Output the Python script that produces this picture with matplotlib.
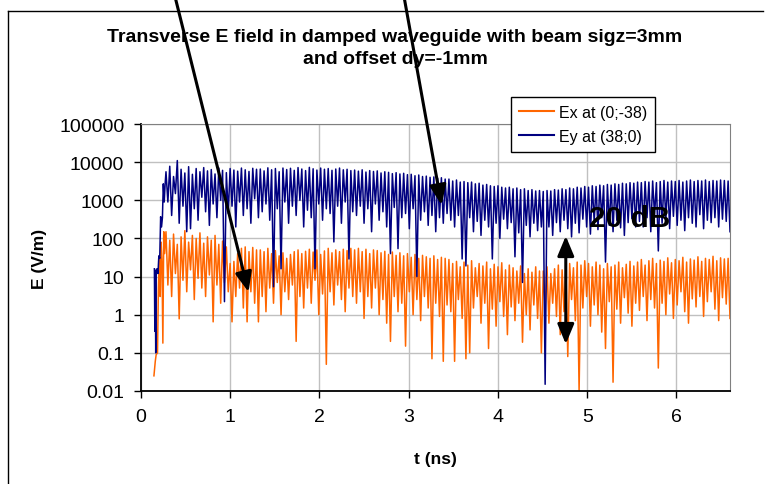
import numpy as np
import matplotlib
matplotlib.use("Agg")
import matplotlib.pyplot as plt
from matplotlib.lines import Line2D
from matplotlib.ticker import NullLocator

plt.rcParams['font.family'] = ['Liberation Sans', 'DejaVu Sans']

# start of each trace (rise of the field)
ey_t0 = [0.150, 0.155, 0.160, 0.165, 0.170, 0.180, 0.190, 0.200, 0.210, 0.220, 0.230, 0.240, 0.250, 0.260, 0.270]
ey_v0 = [16, 0.37, 14, 0.1, 15, 16, 12, 35, 30, 370, 200, 350, 2700, 900, 2600]
ex_t0 = [0.145, 0.160, 0.170, 0.185, 0.195, 0.205, 0.215, 0.225, 0.235, 0.245, 0.255, 0.265]
ex_v0 = [0.025, 0.06, 0.09, 0.1, 5, 30, 3, 80, 25, 0.18, 150, 40]

# oscillating part, 0.28 .. 6.6 ns : local maxima and minima
ey_peaks = [5600, 7800, 4200, 11000, 6500, 5200, 7600, 4800, 6800, 5600, 7200, 5900, 6400, 4900, 7000, 6100, 5300, 6800, 6200, 5800, 7000, 6300, 5700, 6900, 6500,
            6600, 5900, 7100, 6300, 6800, 5600, 7000, 6400, 6900, 6100, 7200, 6600, 6000, 7300, 6700, 6200, 7000, 6500, 6800, 6100, 6600, 7000, 6300, 6500, 6000,
            6200, 5800, 6300, 5500, 6000, 5700, 5900, 5200, 5600, 5400, 5000, 5300, 4900, 5100, 4700, 4800, 4400, 4600, 4200, 4300, 4000, 4100, 3800, 3900, 3600,
            3600, 3200, 3400, 3000, 3100, 2900, 3000, 2700, 2800, 2500, 2600, 2400, 2300, 2400, 2200, 2100, 2200, 2000, 2100, 1900, 2000, 1800, 1900, 1750, 1800,
            1700, 1800, 1750, 1900, 1850, 2000, 1900, 2100, 2000, 2200, 2100, 2300, 2200, 2400, 2300, 2500, 2400, 2600, 2500, 2700, 2600, 2800, 2700, 2900, 2800,
            3000, 2900, 3100, 3000, 3200, 2900, 3100, 3300, 3000, 3200, 3100, 3300, 3000, 3200, 3400, 3100, 3300, 3200, 3400, 3100, 3300, 3200, 3400, 3300, 3200]
ey_dips = [900, 400, 1500, 250, 700, 150, 180, 600, 300, 1200, 500, 220, 800, 350, 1000, 2.2, 450, 700, 200, 900, 400, 600, 250, 1100, 350,
           500, 800, 300, 5.4, 600, 16, 900, 250, 700, 400, 1000, 200, 550, 350, 16, 800, 300, 600, 450, 81, 700, 250, 900, 29, 500,
           400, 700, 250, 600, 150, 800, 300, 500, 200, 40, 650, 54, 350, 450, 180, 600, 10, 300, 500, 220, 400, 150, 350, 250, 450,
           300, 200, 400, 29, 19, 350, 150, 280, 120, 300, 200, 29, 250, 100, 320, 180, 260, 33, 140, 7, 220, 110, 250, 160, 200,
           0.015, 200, 120, 260, 150, 300, 180, 110, 250, 140, 320, 200, 130, 280, 170, 350, 24, 220, 150, 300, 190, 120, 260, 330, 200,
           280, 200, 350, 150, 400, 47, 250, 320, 180, 380, 220, 300, 160, 350, 250, 200, 420, 180, 300, 260, 350, 200, 320, 280, 150]
ex_peaks = [150, 90, 130, 70, 110, 160, 80, 120, 100, 140, 75, 110, 90, 120, 70, 85, 60, 22, 25, 40, 55, 60, 45, 58, 50,
            50, 45, 55, 40, 48, 35, 42, 30, 38, 45, 50, 40, 46, 52, 44, 50, 38, 47, 55, 42, 50, 45, 52, 48, 55,
            50, 55, 45, 52, 40, 50, 48, 42, 46, 38, 44, 36, 42, 35, 40, 32, 38, 30, 36, 33, 30, 35, 28, 32, 30,
            28, 22, 25, 18, 24, 20, 26, 17, 22, 19, 24, 16, 21, 18, 23, 15, 20, 17, 14, 19, 12, 16, 13, 18, 14,
            14, 18, 12, 16, 20, 15, 18, 22, 17, 24, 20, 26, 22, 18, 24, 20, 16, 22, 18, 20, 24, 17, 21, 25, 19,
            24, 28, 20, 26, 30, 22, 27, 25, 31, 23, 28, 26, 32, 24, 29, 27, 33, 25, 30, 28, 34, 26, 31, 29, 30]
ex_dips = [6, 3, 12, 0.78, 8, 4, 15, 2.5, 9, 5, 3, 11, 0.65, 6, 2, 7, 4, 0.65, 3, 5, 1.5, 0.65, 4, 2, 0.65,
           3, 1.2, 5, 2, 7, 1, 4, 2.5, 6, 0.2, 3, 1.5, 5, 2, 8, 1, 3.5, 0.05, 4, 1.8, 6, 2.5, 1.2, 5, 3,
           2, 4, 0.8, 3, 1.5, 5, 1, 2.5, 0.6, 0.2, 3, 1.2, 2, 0.15, 4, 1, 2.5, 0.7, 3, 1.5, 0.07, 2, 0.9, 0.06, 1.8,
           1.2, 0.06, 2.5, 0.8, 0.07, 0.1, 1.5, 3, 0.6, 2, 0.13, 1.4, 0.5, 2.2, 0.9, 0.3, 1.6, 0.7, 2, 0.19, 1, 0.4, 1.8, 0.8, 0.1,
           1.5, 0.6, 2, 0.9, 0.3, 1.2, 0.08, 2.5, 0.7, 0.01, 1.5, 3, 0.5, 1.8, 1, 0.35, 0.13, 2.2, 0.017, 1.4, 0.6, 2.8, 1.1, 0.5, 2,
           1.3, 3, 0.7, 2.5, 1.5, 0.04, 2, 1, 3.5, 0.8, 1.8, 4, 1.2, 0.6, 2.6, 1.6, 3, 0.9, 2.2, 4, 1.4, 0.7, 2.8, 1.9, 0.8]

yticks = [0.01, 0.1, 1, 10, 100, 1000, 10000, 100000]
ylabels = ['0.01', '0.1', '1', '10', '100', '1000', '10000', '100000']
xticks = [0, 1, 2, 3, 4, 5, 6]


def build(t0, v0, peaks, dips):
    vals = np.empty(2 * len(peaks))
    vals[0::2] = peaks
    vals[1::2] = dips
    t = np.linspace(0.28, 6.60, len(vals))
    return np.concatenate([t0, t]), np.concatenate([v0, vals])


ex_t, ex_v = build(ex_t0, ex_v0, ex_peaks, ex_dips)
ey_t, ey_v = build(ey_t0, ey_v0, ey_peaks, ey_dips)

W, H = 768, 485
fig = plt.figure(figsize=(W / 100, H / 100), dpi=100)
ax = fig.add_axes([141 / W, 1 - 392 / H, (730 - 141) / W, (392 - 125) / H])

ax.plot(ex_t, ex_v, color='#FF6600', lw=1.1, label='Ex at (0;-38)')
ax.plot(ey_t, ey_v, color='#000080', lw=1.1, label='Ey at (38;0)')

ax.set_yscale('log')
ax.set_xlim(0, 6.6)
ax.set_ylim(0.01, 100000)
ax.set_yticks(yticks)
ax.set_yticklabels(ylabels)
ax.yaxis.set_minor_locator(NullLocator())
ax.set_xticks(xticks)
ax.tick_params(axis='both', direction='out', length=5, width=1, labelsize=14, pad=7)
ax.grid(True, color='#C0C0C0', lw=1)
ax.set_axisbelow(True)
for s in ['top', 'right']:
    ax.spines[s].set_color('#808080')
for s in ['left', 'bottom']:
    ax.spines[s].set_color('black')
    ax.spines[s].set_linewidth(1.3)

ax.set_xlabel('t (ns)', fontsize=12.5, fontweight='bold', labelpad=19)
ax.set_ylabel('E (V/m)', fontsize=12.5, fontweight='bold', labelpad=9)

fig.text(395 / W, 1 - 48.5 / H, 'Transverse E field in damped waveguide with beam sigz=3mm\nand offset dy=-1mm',
         ha='center', va='center', fontsize=14, fontweight='bold', linespacing=1.4)

leg = ax.legend(loc='upper left', bbox_to_anchor=(511 / W, 1 - 98 / H), bbox_transform=fig.transFigure,
                borderaxespad=0, fontsize=11.5, frameon=True, fancybox=False, framealpha=1,
                edgecolor='black', handlelength=2.2, handletextpad=0.3, borderpad=0.5, labelspacing=0.55)
leg.get_frame().set_linewidth(1)
for h in leg.get_lines():
    h.set_linewidth(1.5)

# chart area outline
fig.add_artist(Line2D([8 / W, 8 / W], [0, 1 - 12 / H], color='black', lw=1, transform=fig.transFigure))
fig.add_artist(Line2D([8 / W, 763 / W], [1 - 12 / H, 1 - 12 / H], color='black', lw=1, transform=fig.transFigure))

arrow = dict(arrowstyle='-|>,head_length=0.6,head_width=0.25', lw=2.2, color='black',
             mutation_scale=20, shrinkA=0, shrinkB=0)
ax.annotate('', xy=(1.205, 3.94), xycoords='data', xytext=(175 / W, 1.005), textcoords='figure fraction',
            arrowprops=arrow, annotation_clip=False)
ax.annotate('', xy=(3.368, 753), xycoords='data', xytext=(404 / W, 1.005), textcoords='figure fraction',
            arrowprops=arrow, annotation_clip=False)
dbl = dict(arrow, arrowstyle='<|-|>,head_length=0.6,head_width=0.25')
ax.annotate('', xy=(4.76, 116), xytext=(4.76, 0.17), arrowprops=dbl)
ax.text(5.02, 340, '20 dB', fontsize=21.5, fontweight='bold', ha='left', va='center')

fig.savefig('out.png', dpi=100)
